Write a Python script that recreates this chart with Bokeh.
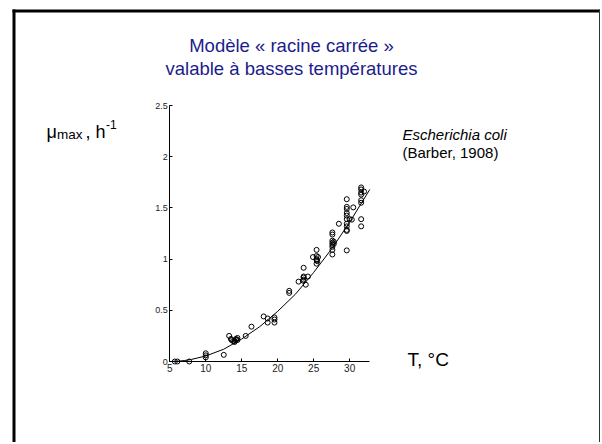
from bokeh.plotting import figure
from bokeh.models import Range1d, Label, BoxAnnotation, FixedTicker, LinearAxis
from bokeh.embed import file_html
from bokeh.resources import INLINE

# Observations (Barber, 1908): temperature (°C) and mu_max (h^-1)
temp_obs = [5.7, 6.05, 7.7,
            10.0, 10.0, 10.0,
            12.5,
            13.25, 13.5, 13.6, 13.8, 14.0, 14.0, 14.2, 14.2, 14.4, 14.4,
            15.55, 16.35, 18.05, 18.6, 18.6, 19.55, 19.55, 19.55,
            21.6, 21.6, 22.9, 23.6, 23.6, 23.6, 23.6, 23.5, 23.9, 24.2,
            24.9, 25.4, 25.4, 25.4, 25.4, 25.4, 25.5, 25.6,
            27.6, 27.6, 27.6, 27.6, 27.6, 27.6, 27.6, 27.6, 27.8, 27.8,
            28.5,
            29.6, 29.6, 29.6, 29.6, 29.6, 29.6, 29.6, 29.6, 29.6, 29.6, 29.6,
            30.0, 30.3, 30.5,
            31.6, 31.6, 31.6, 31.6, 31.6, 31.6, 31.6, 31.6, 32.0]
mu_obs = [0.0, 0.0, 0.0,
          0.08, 0.06, 0.04,
          0.065,
          0.25, 0.22, 0.21, 0.20, 0.19, 0.20, 0.21, 0.22, 0.23, 0.21,
          0.25, 0.34, 0.44, 0.42, 0.38, 0.43, 0.41, 0.38,
          0.69, 0.67, 0.78, 0.915, 0.83, 0.82, 0.80, 0.79, 0.75, 0.83,
          1.02, 1.09, 1.03, 1.00, 0.99, 0.955, 0.98, 1.02,
          1.26, 1.24, 1.18, 1.16, 1.14, 1.12, 1.09, 1.045, 1.17, 1.15,
          1.345,
          1.585, 1.51, 1.49, 1.45, 1.425, 1.39, 1.345, 1.32, 1.285, 1.275, 1.085,
          1.39, 1.385, 1.505,
          1.70, 1.68, 1.65, 1.63, 1.575, 1.55, 1.39, 1.32, 1.66]

# Fitted square-root model curve
temp_fit = [5.0, 6.0, 7.0, 8.0, 10.0, 12.5, 15.0, 17.5, 20.0, 22.5, 25.0, 27.5, 30.0, 32.8]
mu_fit = [0.0, 0.002, 0.009, 0.02, 0.054, 0.12, 0.22, 0.34, 0.49, 0.66, 0.87, 1.10, 1.36, 1.68]

x_ticks = [5, 10, 15, 20, 25, 30]
y_ticks = [0, 0.5, 1, 1.5, 2, 2.5]
X_MIN, X_MAX = 5, 32.8
Y_MIN, Y_MAX = 0, 2.5

# ---- layout (pixel geometry of the slide) ----
W, H = 600, 442
AX_LEFT, AX_RIGHT = 169.3, 369.3   # pixel x of X_MIN, X_MAX
AX_TOP, AX_BOTTOM = 105.0, 361.0   # pixel y of Y_MAX, Y_MIN
SX = (AX_RIGHT - AX_LEFT) / (X_MAX - X_MIN)
SY = (AX_BOTTOM - AX_TOP) / (Y_MAX - Y_MIN)

def fx(px):
    return X_MIN + (px - AX_LEFT) / SX

def fy(py):
    return Y_MIN + (AX_BOTTOM - py) / SY

FONT = "Liberation Sans"

p = figure(width=W, height=H, output_backend="svg", toolbar_location=None,
           x_range=Range1d(fx(0), fx(W)), y_range=Range1d(fy(H), fy(0)),
           x_axis_type=None, y_axis_type=None,
           min_border=0, min_border_left=0, min_border_right=0,
           min_border_top=0, min_border_bottom=0)
p.outline_line_color = None
p.xgrid.visible = False
p.ygrid.visible = False
p.background_fill_color = "white"
p.border_fill_color = "white"

xaxis = LinearAxis(fixed_location=Y_MIN, bounds=(X_MIN, X_MAX),
                   ticker=FixedTicker(ticks=x_ticks))
yaxis = LinearAxis(fixed_location=X_MIN, bounds=(Y_MIN, Y_MAX),
                   ticker=FixedTicker(ticks=y_ticks))
yaxis.major_label_overrides = {0: "0", 0.5: "0.5", 1: "1", 1.5: "1.5", 2: "2", 2.5: "2.5"}
for ax in (xaxis, yaxis):
    ax.minor_tick_line_color = None
    ax.major_tick_in = 3
    ax.major_tick_out = 0
    ax.axis_line_color = "black"
    ax.major_tick_line_color = "black"
    ax.major_label_text_font = FONT
    ax.major_label_text_color = "#222222"
    ax.major_label_standoff = 2
xaxis.major_label_text_font_size = "10px"
yaxis.major_label_text_font_size = "9px"
p.add_layout(xaxis, "below")
p.add_layout(yaxis, "left")

p.line(temp_fit, mu_fit, line_color="black", line_width=1)
p.scatter(temp_obs, mu_obs, marker="circle", size=5, fill_color=None,
          line_color="black", line_width=1)

# Slide border (filled bars, no outline)
def bar(l, r, t, b, color="black"):
    p.add_layout(BoxAnnotation(left=fx(l), right=fx(r), top=fy(t), bottom=fy(b),
                               fill_color=color, fill_alpha=1, line_color=None))

bar(12, 600, 9, 12)          # top
bar(12, 15, 9, 520)          # left
bar(598.5, 600.5, 9, 520, "#333333")  # right

def lab(x, y, text, size, color="black", align="left", style="normal"):
    p.add_layout(Label(x=fx(x), y=fy(y), text=text, text_font=FONT,
                       text_font_size=size, text_color=color, text_align=align,
                       text_baseline="alphabetic", text_font_style=style))

TITLE_C = "#1c1c8c"
lab(291, 45, "Modèle « racine carrée »", "18.5px", TITLE_C, "center")
lab(291, 67.5, "valable à basses températures", "18.5px", TITLE_C, "center")

lab(46, 131, "μ", "18px")
lab(56.5, 133.5, "max", "13.5px")
lab(85, 131, ",", "18px")
lab(95, 131, "h", "18px")
lab(105.5, 124, "-1", "12px")

lab(402, 133.5, "Escherichia coli", "15px", style="italic")
lab(402, 151.5, "(Barber, 1908)", "15px")

lab(407, 359, "T,  °C", "19px")

open("out.html", "w").write(file_html(p, INLINE))
